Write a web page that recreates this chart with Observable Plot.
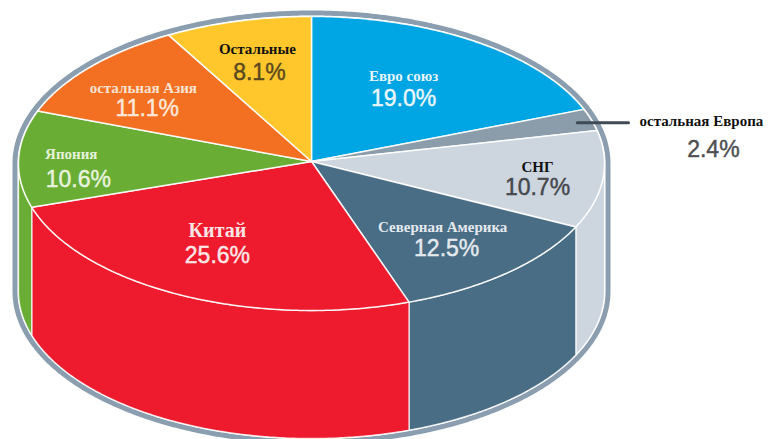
<!DOCTYPE html>
<html>
<head>
<meta charset="utf-8">
<script src="https://cdn.jsdelivr.net/npm/d3@7"></script>
<script src="https://cdn.jsdelivr.net/npm/@observablehq/plot@0.6"></script>
<style>
html,body{margin:0;padding:0;background:#fff}
svg{display:block}
</style>
</head>
<body>
<div id="chart"></div>
<script>
// Chart values, clockwise from 12 o'clock
const categories = ["Евро союз","остальная Европа","СНГ","Северная Америка","Китай","Япония","остальная Азия","Остальные"];
const shares = [19.0,2.4,10.7,12.5,25.6,10.6,11.1,8.1];
const colors = ["#00A5E3","#8B9CAB","#CDD5DF","#4A6D86","#ED1B2D","#69AD35","#F36F21","#FFC72C"];
const nameColors = ["#E6F4FB","#111111","#111111","#E4E9EE","#FBE4E4","#E6F2DA","#FBE3D2","#111111"];
const pctColors = ["#EAF6FC","#4D4F52","#45484C","#E4E9EE","#FCE6E6","#E8F3DE","#FCE8DA","#5B4A1E"];
const labelFx = [0.559,1.415,0.776,0.68,0.716,0.81,0.75,0.72];
const labelFy = [0.609,0.595,1.0,0.70,0.62,-1.1,0.66,0.71];
const nameDx = [0,-6,0,-2,0,-3,-2,-1];
const pctDx = [0,6,0,2,0,4,2,1];
const nameDy = [-11,-14,-10,-11,-12,-12,-10,-11];
const pctDy = [11,14,10,11,13,13,11,12];

// Projection of the pie
const cx = 311, apexY = 161, rimY = 163, rx = 293, ry = 147, depth = 128;
const TAU = 2 * Math.PI;
const rimPt = (t, dz = 0, grow = 0) => ({x: cx + (rx + grow) * Math.sin(t), y: rimY - (ry + grow) * Math.cos(t) + dz});
const arc = (t0, t1, dz = 0, grow = 0) => {
  const n = Math.max(2, Math.ceil(Math.abs(t1 - t0) / 0.01));
  return d3.range(n + 1).map(i => rimPt(t0 + (t1 - t0) * i / n, dz, grow));
};
const cum = d3.cumsum(shares);
const slices = categories.map((name, i) => ({
  name, share: shares[i], color: colors[i], i,
  t0: (i ? cum[i - 1] : 0) / 100 * TAU,
  t1: cum[i] / 100 * TAU
}));
slices.forEach(s => s.mid = (s.t0 + s.t1) / 2);

// Positions derived from each slice's mid angle
const anchorX = s => cx + rx * Math.sin(s.mid) * labelFx[s.i];
const anchorY = s => apexY - ry * Math.cos(s.mid) * labelFy[s.i];

const base = {curve: "linear-closed", x: "x", y: "y"};
const silhouette = [...arc(-Math.PI / 2, Math.PI / 2, 0, 3.5), ...arc(Math.PI / 2, 3 * Math.PI / 2, depth, 3.5)];

const wallMarks = slices.flatMap(s => {
  const a = Math.max(s.t0, Math.PI / 2), b = Math.min(s.t1, 3 * Math.PI / 2);
  if (a >= b) return [];
  return [Plot.line([...arc(a, b), ...arc(b, a, depth)], {...base, fill: s.color, stroke: "#FFFFFF", strokeWidth: 1.3, strokeOpacity: 0.8})];
});
const topMarks = slices.map(s =>
  Plot.line([{x: cx, y: apexY}, ...arc(s.t0, s.t1)], {...base, fill: s.color, stroke: "#FFFFFF", strokeWidth: 1.5, strokeOpacity: 0.9, strokeLinejoin: "round"})
);

const outer = slices[1];
const leader = [1.133, 0.95].map(f => ({
  x: cx + rx * Math.sin(outer.mid) * f,
  y: apexY - ry * Math.cos(outer.mid) * 0.89
}));

const serif = "'Liberation Serif','Times New Roman',serif";
const sans = "'Liberation Sans',Arial,sans-serif";

const plot = Plot.plot({
  width: 768, height: 439,
  margin: 0,
  style: {background: "#fff", overflow: "hidden"},
  x: {domain: [0, 768], range: [0, 768], axis: null},
  y: {domain: [0, 439], range: [0, 439], axis: null},
  marks: [
    Plot.line(silhouette, {...base, fill: "#FFFFFF", stroke: "#8A9EB0", strokeWidth: 5}),
    ...wallMarks,
    ...topMarks,
    Plot.line(leader, {x: "x", y: "y", stroke: "#3F4A55", strokeWidth: 3}),
    Plot.text(slices, {
      x: s => anchorX(s) + nameDx[s.i], y: s => anchorY(s) + nameDy[s.i],
      text: "name", fill: s => nameColors[s.i], textAnchor: "middle", lineAnchor: "middle",
      fontFamily: serif, fontWeight: "bold", fontSize: s => s.i === 4 ? 20 : 15
    }),
    Plot.text(slices, {
      x: s => anchorX(s) + pctDx[s.i], y: s => anchorY(s) + pctDy[s.i],
      text: s => s.share.toFixed(1) + "%", fill: s => pctColors[s.i], stroke: s => pctColors[s.i], strokeWidth: 0.45,
      textAnchor: "middle", lineAnchor: "middle",
      fontFamily: sans, fontSize: 23
    })
  ],
  color: {type: "identity"}
});
document.getElementById("chart").appendChild(plot);
</script>
</body>
</html>
